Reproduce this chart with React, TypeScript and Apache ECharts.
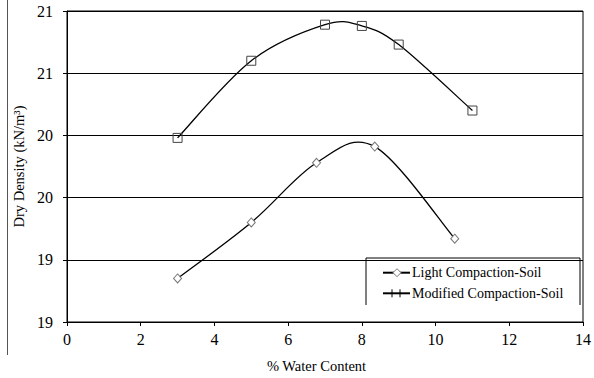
import React, { useEffect, useRef } from "react";
import * as echarts from "echarts";

const lightX = [3, 5, 6.77, 8.35, 10.52];
const lightY = [18.85, 19.3, 19.78, 19.91, 19.17];
const modX = [3, 5, 7, 8, 9, 11];
const modY = [19.98, 20.6, 20.89, 20.88, 20.73, 20.2];
const yTicks = [18.5, 19, 19.5, 20, 20.5, 21];
const legendNames = ["Light Compaction-Soil", "Modified Compaction-Soil"];

const FONT = "Liberation Serif";

// Excel-style smoothed curve (Catmull-Rom as cubic Bezier), through axis coords
function curveSeries(xs: number[], ys: number[]) {
  return {
    type: "custom",
    coordinateSystem: "cartesian2d",
    data: [[xs[0], ys[0]]],
    silent: true,
    z: 2,
    renderItem: (_params: any, api: any) => {
      const p = xs.map((x, i) => api.coord([x, ys[i]]));
      const n = p.length;
      let d = `M${p[0][0]},${p[0][1]}`;
      for (let i = 0; i < n - 1; i++) {
        const p0 = p[Math.max(0, i - 1)];
        const p1 = p[i];
        const p2 = p[i + 1];
        const p3 = p[Math.min(n - 1, i + 2)];
        const c1x = p1[0] + (p2[0] - p0[0]) / 6;
        const c1y = p1[1] + (p2[1] - p0[1]) / 6;
        const c2x = p2[0] - (p3[0] - p1[0]) / 6;
        const c2y = p2[1] - (p3[1] - p1[1]) / 6;
        d += ` C${c1x},${c1y} ${c2x},${c2y} ${p2[0]},${p2[1]}`;
      }
      return {
        type: "path",
        shape: { pathData: d },
        style: { stroke: "#000", fill: null, lineWidth: 1.3 },
      };
    },
  };
}

export default function App() {
  const ref = useRef<HTMLDivElement>(null);
  useEffect(() => {
    if (!ref.current) return;
    const chart = echarts.init(ref.current, null, { renderer: "svg" });
    const lx = 366, rx = 580, ty = 258, by = 305;
    const r1 = 272.7, r2 = 293.3;
    chart.setOption({
      animation: false,
      backgroundColor: "#ffffff",
      textStyle: { fontFamily: FONT },
      grid: { left: 67, top: 11, right: 8, bottom: 56, show: true, borderColor: "#000", borderWidth: 1 },
      xAxis: {
        type: "value",
        min: 0,
        max: 14,
        interval: 2,
        name: "% Water Content",
        nameLocation: "middle",
        nameGap: 36,
        nameTextStyle: { fontFamily: FONT, fontSize: 14.5, color: "#000", padding: [0, 17, 0, 0] },
        axisLine: { lineStyle: { color: "#000", width: 1 } },
        axisTick: { show: true, length: 4, lineStyle: { color: "#000" } },
        axisLabel: { fontFamily: FONT, fontSize: 16, color: "#000", margin: 9 },
        splitLine: { show: false },
      },
      yAxis: {
        type: "value",
        min: yTicks[0],
        max: yTicks[yTicks.length - 1],
        interval: 0.5,
        name: "Dry Density (kN/m³)",
        nameLocation: "middle",
        nameRotate: 90,
        nameGap: 40,
        nameTextStyle: { fontFamily: FONT, fontSize: 14.5, color: "#000" },
        axisLine: { show: true, lineStyle: { color: "#000", width: 1 } },
        axisTick: { show: true, length: 4, lineStyle: { color: "#000" } },
        axisLabel: {
          fontFamily: FONT,
          fontSize: 16,
          color: "#000",
          margin: 14,
          formatter: (v: number) => String(Math.round(v)),
        },
        splitLine: { show: true, lineStyle: { color: "#000", width: 1 } },
      },
      series: [
        curveSeries(lightX, lightY),
        curveSeries(modX, modY),
        {
          name: legendNames[0],
          type: "scatter",
          data: lightX.map((x, i) => [x, lightY[i]]),
          symbol: "diamond",
          symbolSize: [8, 9],
          itemStyle: { color: "#fff", borderColor: "#777", borderWidth: 1, opacity: 1 },
          z: 3,
        },
        {
          name: legendNames[1],
          type: "scatter",
          data: modX.map((x, i) => [x, modY[i]]),
          symbol: "rect",
          symbolSize: 9,
          itemStyle: { color: "rgba(255,255,255,0)", borderColor: "#444", borderWidth: 1, opacity: 1 },
          z: 3,
        },
      ],
      graphic: [
        { type: "line", shape: { x1: 7.5, y1: 0, x2: 7.5, y2: 355 }, style: { stroke: "#555", lineWidth: 1 } },
        {
          type: "group",
          z: 10,
          children: [
            { type: "rect", shape: { x: lx, y: ty, width: rx - lx, height: by - ty }, style: { fill: "#fff" } },
            {
              type: "polyline",
              shape: { points: [[lx, by], [lx, ty], [rx, ty], [rx, by]] },
              style: { stroke: "#000", lineWidth: 1, fill: null },
            },
            { type: "line", shape: { x1: 383, y1: r1, x2: 410, y2: r1 }, style: { stroke: "#000", lineWidth: 2 } },
            {
              type: "polygon",
              shape: { points: [[397, r1 - 4], [401, r1], [397, r1 + 4], [393, r1]] },
              style: { stroke: "#777", fill: "#fff", lineWidth: 1 },
            },
            { type: "line", shape: { x1: 383, y1: r2, x2: 410, y2: r2 }, style: { stroke: "#000", lineWidth: 2 } },
            { type: "line", shape: { x1: 392, y1: r2 - 4, x2: 392, y2: r2 + 4 }, style: { stroke: "#000", lineWidth: 1 } },
            { type: "line", shape: { x1: 400, y1: r2 - 4, x2: 400, y2: r2 + 4 }, style: { stroke: "#000", lineWidth: 1 } },
            {
              type: "text",
              x: 412,
              y: r1,
              style: { text: legendNames[0], fontFamily: FONT, fontSize: 14, fill: "#000", verticalAlign: "middle" },
            },
            {
              type: "text",
              x: 412,
              y: r2,
              style: { text: legendNames[1], fontFamily: FONT, fontSize: 14, fill: "#000", verticalAlign: "middle" },
            },
          ],
        },
      ],
    });
    return () => chart.dispose();
  }, []);
  return (
    <div
      ref={ref}
      style={{ position: "absolute", left: 0, top: 0, width: 594, height: 378, background: "#fff" }}
    />
  );
}
